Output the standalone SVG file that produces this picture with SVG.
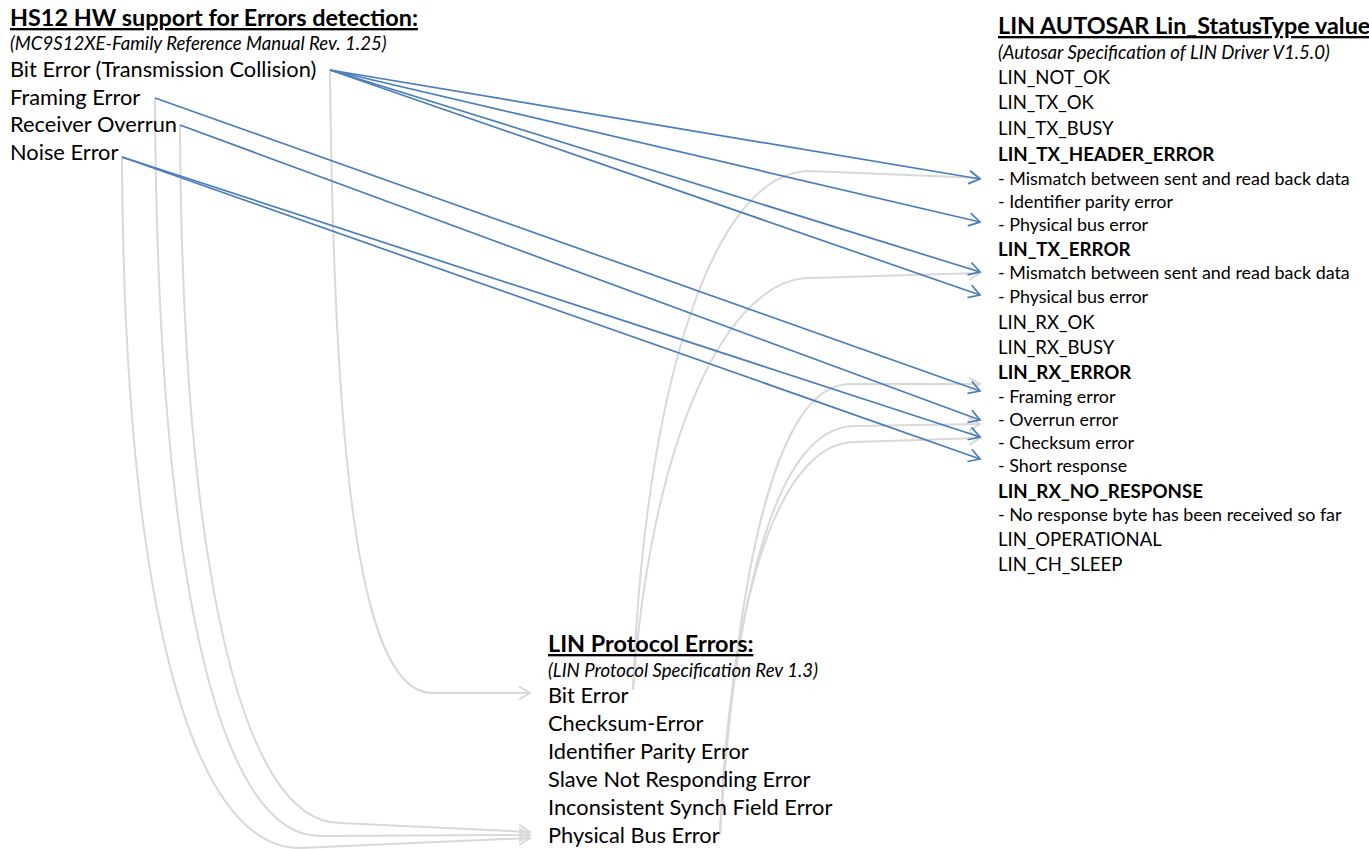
<svg xmlns="http://www.w3.org/2000/svg" width="1369" height="849" viewBox="0 0 1369 849">
  <style>
    text { font-family: Lato, "Liberation Sans", sans-serif; fill: #000; }
    .title { font-weight: bold; font-size: 23.4px; text-decoration: underline; }
    .src { font-style: italic; font-size: 18.6px; }
    .item { font-size: 21.8px; }
    .st { font-size: 18.5px; }
    .stb { font-size: 18.7px; font-weight: bold; }
    .sub { font-size: 17.9px; }
    .blue { fill: none; stroke: #4a7ebb; stroke-width: 1.7; marker-end: url(#arrowBlue); }
    .gray { fill: none; stroke: #d9d9d9; stroke-width: 2; marker-end: url(#arrowGray); }
  </style>
  <defs>
    <marker id="arrowBlue" markerUnits="userSpaceOnUse" markerWidth="14" markerHeight="16" refX="12" refY="8" orient="auto">
      <path d="M1,1.5 L12,8 L1,14.5" fill="none" stroke="#4a7ebb" stroke-width="1.7"/>
    </marker>
    <marker id="arrowGray" markerUnits="userSpaceOnUse" markerWidth="14" markerHeight="16" refX="12" refY="8" orient="auto">
      <path d="M1,1.5 L12,8 L1,14.5" fill="none" stroke="#d9d9d9" stroke-width="2"/>
    </marker>
  </defs>

  <rect width="1369" height="849" fill="#fff"/>

  <!-- connectors -->
  <g id="connectors">
    <!-- HS12 hardware errors to protocol errors -->
    <path class="gray" d="M330,70 C334,480 362,693 432,693 L530,693"/>
    <path class="gray" d="M180,125 C182,560 240,823 340,823 L530,832"/>
    <path class="gray" d="M155,98 C157,560 215,836 320,836 L530,835"/>
    <path class="gray" d="M122,157 C124,600 190,848 300,848 L530,838"/>
    <!-- protocol errors to Lin_StatusType values -->
    <path class="gray" d="M633,690 C645,380 715,171 810,171 L980,178"/>
    <path class="gray" d="M633,690 C652,430 730,278 810,278 L980,273"/>
    <path class="gray" d="M720,835 C735,600 770,384 850,384 L980,384"/>
    <path class="gray" d="M720,835 C735,580 780,426 855,426 L980,424"/>
    <path class="gray" d="M720,835 C732,560 790,442 855,442 L980,438"/>
    <!-- HS12 hardware errors to Lin_StatusType values -->
    <path class="blue" d="M330,70 L980,179"/>
    <path class="blue" d="M330,70 L980,222"/>
    <path class="blue" d="M330,70 L980,272"/>
    <path class="blue" d="M330,70 L980,295"/>
    <path class="blue" d="M155,98 L980,391"/>
    <path class="blue" d="M180,125 L980,420"/>
    <path class="blue" d="M122,157 L980,437"/>
    <path class="blue" d="M122,157 L980,459"/>
  </g>

  <!-- HS12 hardware error detection -->
  <g id="hs12">
    <text class="title" x="10" y="26">HS12 HW support for Errors detection:</text>
    <text class="src" x="10" y="50">(MC9S12XE-Family Reference Manual Rev. 1.25)</text>
    <text class="item" x="10" y="77">Bit Error (Transmission Collision)</text>
    <text class="item" x="10" y="105">Framing Error</text>
    <text class="item" x="10" y="132">Receiver Overrun</text>
    <text class="item" x="10" y="160">Noise Error</text>
  </g>

  <!-- AUTOSAR status values -->
  <g id="autosar">
    <text class="title" x="998" y="34">LIN AUTOSAR Lin_StatusType value</text>
    <text class="src" x="998" y="59">(Autosar Specification of LIN Driver V1.5.0)</text>
    <text class="st" x="998" y="84">LIN_NOT_OK</text>
    <text class="st" x="998" y="109">LIN_TX_OK</text>
    <text class="st" x="998" y="135">LIN_TX_BUSY</text>
    <text class="stb" x="998" y="161">LIN_TX_HEADER_ERROR</text>
    <text class="sub" x="998" y="185">- Mismatch between sent and read back data</text>
    <text class="sub" x="998" y="208">- Identifier parity error</text>
    <text class="sub" x="998" y="231">- Physical bus error</text>
    <text class="stb" x="998" y="256">LIN_TX_ERROR</text>
    <text class="sub" x="998" y="279">- Mismatch between sent and read back data</text>
    <text class="sub" x="998" y="303">- Physical bus error</text>
    <text class="st" x="998" y="329">LIN_RX_OK</text>
    <text class="st" x="998" y="354">LIN_RX_BUSY</text>
    <text class="stb" x="998" y="379">LIN_RX_ERROR</text>
    <text class="sub" x="998" y="403">- Framing error</text>
    <text class="sub" x="998" y="426">- Overrun error</text>
    <text class="sub" x="998" y="449">- Checksum error</text>
    <text class="sub" x="998" y="472">- Short response</text>
    <text class="stb" x="998" y="498">LIN_RX_NO_RESPONSE</text>
    <text class="sub" x="998" y="521">- No response byte has been received so far</text>
    <text class="st" x="998" y="546">LIN_OPERATIONAL</text>
    <text class="st" x="998" y="571">LIN_CH_SLEEP</text>
  </g>

  <!-- LIN protocol errors -->
  <g id="protocol">
    <text class="title" x="548" y="652">LIN Protocol Errors:</text>
    <text class="src" x="548" y="677">(LIN Protocol Specification Rev 1.3)</text>
    <text class="item" x="548" y="703">Bit Error</text>
    <text class="item" x="548" y="731">Checksum-Error</text>
    <text class="item" x="548" y="759">Identifier Parity Error</text>
    <text class="item" x="548" y="787">Slave Not Responding Error</text>
    <text class="item" x="548" y="815">Inconsistent Synch Field Error</text>
    <text class="item" x="548" y="843">Physical Bus Error</text>
  </g>
</svg>
